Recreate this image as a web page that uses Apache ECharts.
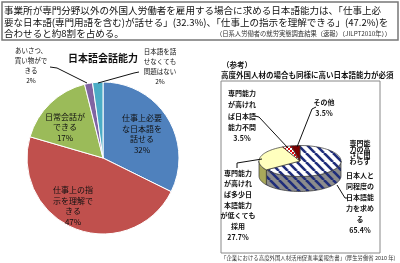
<!DOCTYPE html>
<html>
<head>
<meta charset="utf-8">
<script src="https://cdn.jsdelivr.net/npm/echarts@6/dist/echarts.min.js"></script>
<style>
html,body{margin:0;padding:0;background:#fff;}
#main{width:400px;height:263px;}
</style>
</head>
<body>
<div id="main"></div>
<script>
var FONT = '"Noto Sans CJK JP", sans-serif';

// 見出し
var headLines = [
	'事業所が専門分野以外の外国人労働者を雇用する場合に求める日本語能力は、「仕事上必',
	'要な日本語(専門用語を含む)が話せる」(32.3%)、「仕事上の指示を理解できる」(47.2%)を',
	'合わせると約8割を占める。'
];
var headSource = '（日系人労働者の就労実態調査結果（速報）（JILPT2010年））';

// 左：日本語会話能力
var kaiwaTitle = '日本語会話能力';
var kaiwaNames = ['仕事上必要\nな日本語を\n話せる', '仕事上の指\n示を理解で\nきる', '日常会話が\nできる', 'あいさつ、\n買い物がで\nきる', '日本語を話\nせなくても\n問題はない'];
var kaiwaValues = [32.3, 47.2, 16.6, 1.7, 2.2];
var kaiwaColors = ['#4F81BD', '#C0504D', '#9BBB59', '#8064A2', '#4BACC6'];

// 右：（参考）高度外国人材
var koudoTitle = ['（参考）', '高度外国人材の場合も同様に高い日本語能力が必須'];
var koudoNames = ['専門能力の高さに関わらず日本人と同程度の日本語能力を求める', '専門能力が高ければ多少日本語能力が低くても採用', '専門能力が高ければ日本語能力不問', 'その他'];
var koudoValues = [65.4, 27.7, 3.5, 3.5];
var koudoSource = '「企業における高度外国人材活用促進事業報告書」(厚生労働省 2010 年)';

// ラベル位置（左の円）
var kaiwaLabelPos = [[142, 134], [73, 206], [65, 127], [31, 66], [160, 67]];

function makePattern(bg, fg, kind){
	var c = document.createElement('canvas');
	if(kind == 'stripe'){
		c.width = 9; c.height = 9;
		var g = c.getContext('2d');
		g.fillStyle = bg; g.fillRect(0,0,9,9);
		g.strokeStyle = fg; g.lineWidth = 2.6;
		for(var k=-9;k<=9;k+=9){
			g.beginPath(); g.moveTo(k,0); g.lineTo(k+9,9); g.stroke();
		}
	}else{
		c.width = 4; c.height = 4;
		var g = c.getContext('2d');
		g.fillStyle = bg; g.fillRect(0,0,4,4);
		g.fillStyle = fg;
		g.fillRect(0,0,2,2); g.fillRect(2,2,2,2);
	}
	return {image: c, repeat: 'repeat'};
}

var topFills = [makePattern('#ffffff', '#1F2D7A', 'stripe'), '#FFFFBE', makePattern('#ffffff', '#E01010', 'check'), '#7A0000'];
var sideFills = [makePattern('#8C8C8C', '#1F2D7A', 'stripe'), '#A9A95A', '#B01010', '#4A0000'];

// 3D円の形
var P3 = {cx: 300, cy: 161, rx: 41, ry: 15.5, depth: 15};
var koudoTotal = koudoValues.reduce(function(a,b){return a+b;}, 0);

function sliceAngles(i){
	var s = 0;
	for(var k=0;k<i;k++) s += koudoValues[k];
	return [s/koudoTotal*Math.PI*2, (s+koudoValues[i])/koudoTotal*Math.PI*2];
}
function arcPts(a0, a1, dy){
	var pts = [], n = Math.max(2, Math.ceil((a1-a0)/0.05));
	for(var k=0;k<=n;k++){
		var a = a0 + (a1-a0)*k/n;
		pts.push([P3.cx + P3.rx*Math.sin(a), P3.cy - P3.ry*Math.cos(a) + dy]);
	}
	return pts;
}

function renderSide(params, api){
	var ang = sliceAngles(params.dataIndex);
	var s = Math.max(ang[0], Math.PI/2), e = Math.min(ang[1], Math.PI*1.5);
	if(s >= e) return;
	var pts = arcPts(s, e, 0).concat(arcPts(s, e, P3.depth).reverse());
	return {type: 'polygon', shape: {points: pts}, style: {fill: sideFills[params.dataIndex], stroke: '#333', lineWidth: 0.7}};
}
function renderTop(params, api){
	var ang = sliceAngles(params.dataIndex);
	var pts = [[P3.cx, P3.cy]].concat(arcPts(ang[0], ang[1], 0));
	return {type: 'polygon', shape: {points: pts}, style: {fill: topFills[params.dataIndex], stroke: '#333', lineWidth: 0.7}};
}

var myChart = echarts.init(document.getElementById('main'), null, {renderer: 'canvas'});

function txt(x, y, text, size, opt){
	opt = opt || {};
	return {type: 'text', x: x, y: y, z: 10, style: {
		text: text, fontSize: size, fontFamily: FONT, fill: opt.fill || '#111',
		fontWeight: opt.bold ? 'bold' : 'normal', align: opt.align || 'left',
		verticalAlign: opt.va || 'middle', lineHeight: opt.lh || size + 2
	}};
}
function line(pts){
	return {type: 'polyline', z: 10, shape: {points: pts}, style: {stroke: '#111', lineWidth: 1, fill: null}};
}

var option = {
	animation: false,
	graphic: [
		{type: 'rect', shape: {x: 2, y: 2, width: 396, height: 38}, style: {fill: '#fff', stroke: '#777', lineWidth: 1.5}},
		txt(4, 10, headLines[0], 9.55),
		txt(4, 22, headLines[1], 9.55),
		txt(4, 33.5, headLines[2], 9.55),
		txt(391, 34, headSource, 6.3, {align: 'right', fill: '#333'}),
		txt(103, 58, kaiwaTitle, 10, {bold: true, align: 'center'}),
		line([[50, 67], [57, 68], [87, 83]]),
		line([[139, 72], [134, 73], [98, 83]]),
		// 右パネル
		txt(222, 65, koudoTitle[0], 7.5, {bold: true}),
		txt(221, 75, koudoTitle[1], 7.5, {bold: true}),
		{type: 'rect', shape: {x: 221, y: 81, width: 159, height: 172}, style: {fill: 'none', stroke: '#888', lineWidth: 1}},
		txt(242, 116, '専門能力\nが高けれ\nば日本語\n能力不問\n3.5%', 7, {bold: true, align: 'center', lh: 11.2}),
		txt(324, 108, 'その他\n3.5%', 7, {bold: true, align: 'center', lh: 11}),
		txt(238, 205, '専門能力\nが高けれ\nば多少日\n本語能力\nが低くても\n採用\n27.7%', 7, {bold: true, align: 'center', lh: 10.7}),
		txt(360, 152, '専門能\n力の高\nさに関\nわらず', 7, {bold: true, align: 'center', lh: 6}),
		txt(360, 203, '日本人と\n同程度の\n日本語能\n力を求め\nる\n65.4%', 7, {bold: true, align: 'center', lh: 11}),
		line([[255, 116], [259, 117], [288, 148]]),
		line([[316, 107], [312, 109], [297, 147]]),
		line([[237, 168], [237, 163], [262, 159]]),
		line([[337, 185], [345, 198], [348, 198]]),
		txt(221, 258, koudoSource, 5.4, {fill: '#333'})
	],
	series: [
		{
			type: 'pie',
			center: [103, 158],
			radius: 76,
			startAngle: 90,
			clockwise: true,
			silent: true,
			itemStyle: {borderColor: '#fff', borderWidth: 1},
			label: {
				show: true, position: 'inside', color: '#111', fontFamily: FONT,
				fontSize: 8, lineHeight: 10.5, align: 'center', verticalAlign: 'middle',
				formatter: function(p){ return p.name + '\n' + Math.round(p.percent) + '%'; }
			},
			labelLine: {show: false},
			labelLayout: function(p){
				return {x: kaiwaLabelPos[p.dataIndex][0], y: kaiwaLabelPos[p.dataIndex][1]};
			},
			data: kaiwaNames.map(function(n, i){
				var d = {name: n, value: kaiwaValues[i], itemStyle: {color: kaiwaColors[i]}};
				if(i >= 3) d.label = {fontSize: 6.5, lineHeight: 10};
				return d;
			})
		},
		{
			type: 'custom',
			coordinateSystem: 'none',
			silent: true,
			renderItem: renderSide,
			data: koudoValues
		},
		{
			type: 'custom',
			coordinateSystem: 'none',
			silent: true,
			z: 3,
			renderItem: renderTop,
			data: koudoValues
		}
	]
};

myChart.setOption(option);
window.addEventListener('resize', function(){ myChart.resize(); });
</script>
</body>
</html>
